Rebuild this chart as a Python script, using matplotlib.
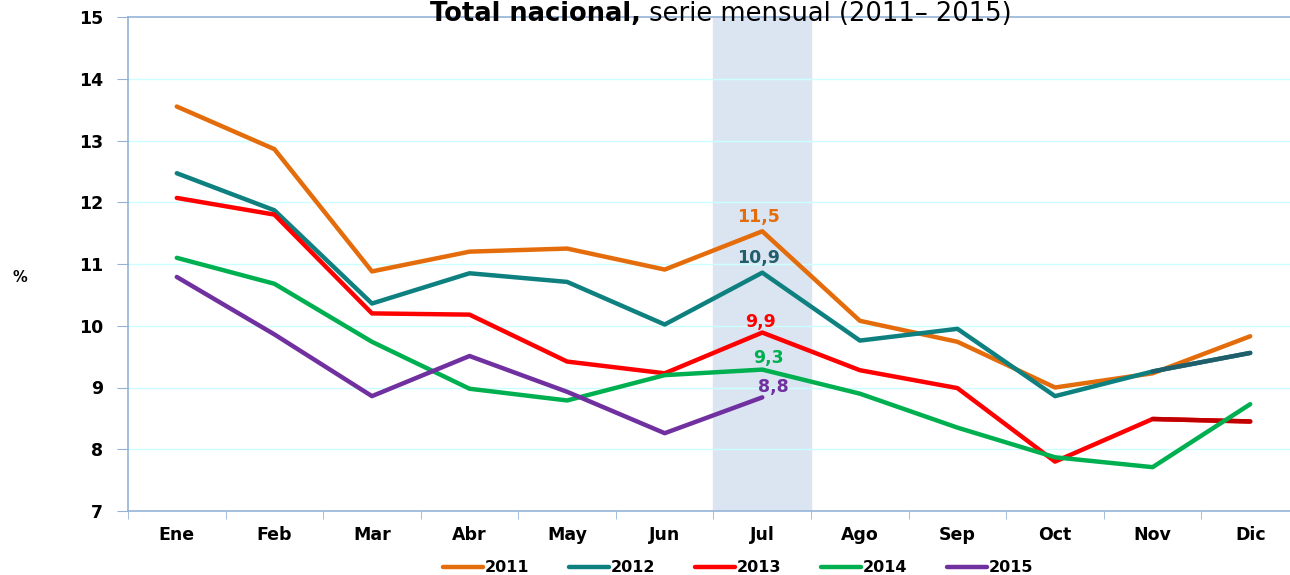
import matplotlib
matplotlib.use("Agg")
import matplotlib.pyplot as plt

MESES = ["Ene", "Feb", "Mar", "Abr", "May", "Jun", "Jul", "Ago", "Sep", "Oct", "Nov", "Dic"]
Y2011 = [13.55, 12.86, 10.88, 11.2, 11.25, 10.91, 11.53, 10.08, 9.74, 9.0, 9.23, 9.83]
Y2012 = [12.47, 11.87, 10.36, 10.85, 10.71, 10.02, 10.86, 9.76, 9.95, 8.86, 9.26, 9.56]
Y2013 = [12.07, 11.8, 10.2, 10.18, 9.42, 9.23, 9.89, 9.28, 8.99, 7.8, 8.49, 8.45]
Y2014 = [11.1, 10.68, 9.74, 8.98, 8.79, 9.2, 9.29, 8.9, 8.35, 7.87, 7.71, 8.73]
Y2015 = [10.79, 9.86, 8.86, 9.51, 8.93, 8.26, 8.84]
ETIQ = ["11,5", "10,9", "9,9", "9,3", "8,8"]
ANIOS = ["2011", "2012", "2013", "2014", "2015"]
COLS = ["#e46c0a", "#0e8080", "#ff0000", "#00b050", "#7030a0"]
COL_ETIQ = ["#e46c0a", "#215e6b", "#ff0000", "#00b050", "#7030a0"]
# tramo Nov-Dic con color algo distinto (2012 y 2013)
COL_FIN = {1: "#215e6b", 2: "#c00000"}
# desplazamiento de las etiquetas de Jul (px)
DESP = [(-4, 14), (-4, 15), (-2, 11), (6, 12), (11, 10)]

fig = plt.figure(figsize=(12.9, 5.75), dpi=100)
ax = fig.add_axes([128/1290, 1 - 511/575, (1299 - 128)/1290, (511 - 17)/575])

x = list(range(len(MESES)))
ax.axvspan(5.5, 6.5, color="#dbe5f1", zorder=0)
for v in range(8, 15):
    ax.axhline(v, color="#ccffff", lw=1.0, zorder=1)

series = [Y2011, Y2012, Y2013, Y2014, Y2015]
for i, (ys, c, lab) in enumerate(zip(series, COLS, ANIOS)):
    ax.plot(x[:len(ys)], ys, color=c, lw=3.2, label=lab, zorder=3,
            solid_capstyle="round", solid_joinstyle="round")
    if i in COL_FIN:
        ax.plot(x[10:12], ys[10:12], color=COL_FIN[i], lw=3.2, zorder=3,
                solid_capstyle="round")
    dx, dy = DESP[i]
    ax.annotate(ETIQ[i], (6, ys[6]), xytext=(dx*0.72, dy*0.72), textcoords="offset points",
                ha="center", va="center", color=COL_ETIQ[i],
                fontsize=12.5, fontweight="bold", zorder=4)

ax.set_xlim(-0.5, 11.5)
ax.set_ylim(7, 15)
ax.set_yticks(range(7, 16))
ax.set_xticks(x)
ax.set_xticklabels(MESES, fontsize=12.5, fontweight="bold")
ax.set_xticks([k + 0.5 for k in range(-1, 12)], minor=True)
ax.tick_params(axis="x", which="major", length=0, pad=11)
ax.tick_params(axis="x", which="minor", length=6, color="#95b3d7", direction="out")
ax.tick_params(axis="y", length=8, color="#95b3d7", direction="out", pad=10,
               labelsize=12.5)
for t in ax.get_yticklabels():
    t.set_fontweight("bold")
for s in ax.spines.values():
    s.set_color("#95b3d7")
    s.set_linewidth(1.2)

fig.text(20/1290, 1 - 278/575, "%", fontsize=10.5, fontweight="bold",
         ha="center", va="center")

# título: parte en negrita + resto normal, pegados
t1 = fig.text(430/1290, 1 - 21/575, "Total nacional,", fontsize=18.5,
              fontweight="bold", ha="left", va="baseline")
ax.annotate(" serie mensual (2011\u2013 2015)", xy=(1, 0), xycoords=t1,
            fontsize=18.5, ha="left", va="bottom", annotation_clip=False)

fig.legend(loc="center", bbox_to_anchor=(738/1290, 1 - 568/575), ncol=5,
           frameon=False, handlelength=2.5, handletextpad=0.1,
           columnspacing=2.5, prop={"weight": "bold", "size": 11.5})

fig.savefig("out.png", dpi=100)
